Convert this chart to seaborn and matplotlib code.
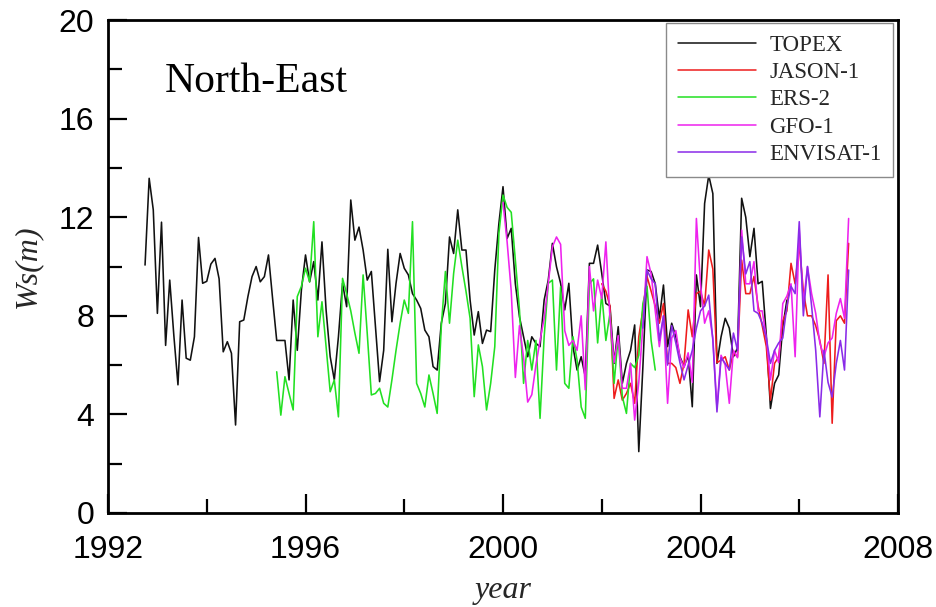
import numpy as np
import pandas as pd
import matplotlib
matplotlib.use("Agg")
import matplotlib.pyplot as plt
from matplotlib.ticker import MultipleLocator
import seaborn as sns

# Monthly mean wind speed (m/s) per altimeter mission, North-East region
topex_start = (1992, 10)
topex = [10.06, 13.58, 12.3, 8.1, 11.8, 6.8, 9.45, 7.2, 5.2, 8.64, 6.28, 6.2,
         7.15, 11.18, 9.32, 9.4, 10.1, 10.33, 9.5, 6.54, 6.95, 6.48, 3.57, 7.76,
         7.83, 8.78, 9.59, 10.0, 9.38, 9.59, 10.47, 8.7, 7.0, 7.0, 7.0, 5.4,
         8.64, 6.6, 9.05, 10.47, 9.38, 10.2, 8.64, 11.0, 8.24, 6.34, 5.4, 7.15,
         9.32, 8.37, 12.7, 11.07, 11.6, 10.67, 9.45, 9.8, 7.56, 5.33, 6.6, 10.7,
         7.76, 9.32, 10.53, 9.93, 9.66, 8.9, 8.64, 8.3, 7.42, 7.15, 5.94, 5.8,
         7.7, 8.5, 11.2, 10.53, 12.3, 10.67, 10.67, 8.64, 7.22, 8.17, 6.88, 7.42,
         7.36, 9.86, 11.75, 13.24, 11.14, 11.55, 9.3, 7.96, 7.15, 6.34, 7.15, 6.88,
         6.75, 8.64, 9.45, 10.94, 9.99, 9.32, 8.24, 9.32, 6.75, 5.8, 6.34, 5.53,
         10.13, 10.13, 10.87, 9.72, 8.5, 8.4, 6.07, 7.56, 5.26, 6.07, 6.6, 7.63,
         2.49, 5.94, 9.86, 9.8, 9.3, 7.9, 9.25, 6.75, 7.7, 7.15, 6.34, 5.94,
         6.4, 4.31, 9.66, 8.37, 12.56, 13.7, 12.96, 6.07, 7.15, 7.9, 7.5, 6.34,
         6.7, 12.77, 12.0, 10.4, 11.55, 9.3, 9.4, 7.2, 4.24, 5.26, 5.6, 7.56,
         8.64]

jason_start = (2002, 1)
jason = [9.3, 9.0, 8.4, 4.65, 5.4, 4.58, 4.85, 5.26, 4.45, 7.15, 8.24, 9.6,
         9.0, 8.4, 7.7, 8.5, 6.07, 6.07, 5.9, 5.26, 6.07, 8.24, 7.15, 8.9,
         9.0, 8.4, 10.67, 9.9, 6.1, 6.2, 6.34, 5.8, 6.5, 6.34, 10.26, 8.9,
         8.9, 9.6, 8.4, 7.6, 6.75, 4.58, 6.07, 6.34, 7.8, 8.2, 10.13, 9.3,
         10.9, 9.0, 8.0, 8.0, 7.6, 7.0, 6.07, 9.66, 3.64, 7.8, 8.0, 7.7,
         10.94]

ers_start = (1995, 6)
ers = [5.73, 3.97, 5.53, 4.85, 4.18, 8.78, 9.2, 9.93, 9.38, 11.82, 7.15, 8.57,
       6.75, 4.92, 5.4, 3.9, 9.52, 8.9, 8.2, 7.3, 6.48, 9.66, 7.29, 4.79,
       4.85, 5.06, 4.45, 4.3, 5.4, 6.6, 7.7, 8.64, 8.1, 11.82, 5.26, 4.85,
       4.3, 5.6, 4.85, 4.04, 7.56, 9.8, 7.7, 9.72, 11.07, 10.0, 9.0, 7.9,
       4.72, 6.82, 5.94, 4.18, 5.26, 6.75, 11.34, 12.9, 12.4, 12.2, 10.26, 8.24,
       5.26, 7.0, 5.8, 7.0, 3.84, 7.15, 9.32, 9.45, 5.8, 9.18, 5.26, 5.06,
       7.15, 6.2, 4.3, 3.84, 9.3, 9.5, 6.9, 8.9, 7.0, 8.1, 5.26, 7.15,
       4.72, 4.04, 6.07, 5.9, 6.4, 8.5, 9.2, 7.0, 5.8]

gfo_start = (2000, 1)
gfo = [12.6, 11.0, 9.0, 5.5, 7.6, 6.3, 4.5, 4.8, 6.0, 7.0, 7.9, 9.3,
       10.8, 11.2, 10.9, 7.4, 6.8, 7.0, 6.6, 8.0, 5.0, 10.0, 8.2, 9.45,
       8.7, 11.0, 7.9, 6.1, 7.2, 5.06, 5.06, 6.07, 3.77, 5.3, 7.6, 10.4,
       9.7, 8.2, 6.75, 8.0, 4.45, 7.1, 7.4, 6.3, 5.9, 6.5, 5.3, 11.95,
       9.3, 7.7, 8.2, 7.1, 4.25, 6.4, 6.0, 4.45, 6.6, 6.3, 11.48, 9.3,
       9.3, 10.2, 8.2, 8.2, 7.1, 5.4, 6.6, 6.1, 8.5, 8.8, 9.3, 6.34,
       11.48, 8.5, 10.0, 8.9, 8.1, 6.9, 6.34, 6.9, 7.1, 8.1, 8.7, 7.9,
       11.95]

envisat_start = (2002, 11)
envisat = [7.5, 9.86, 9.5, 9.3, 7.0, 8.0, 6.0, 7.6, 6.9, 6.1, 5.4, 6.0,
           6.6, 7.5, 8.2, 8.4, 8.84, 7.0, 4.1, 6.3, 6.07, 5.8, 7.3, 6.6,
           11.2, 9.7, 10.2, 8.2, 8.1, 7.7, 7.1, 6.07, 6.6, 6.9, 7.1, 8.4,
           9.2, 8.9, 11.82, 8.0, 10.0, 8.4, 6.6, 3.9, 6.6, 5.3, 4.7, 6.07,
           7.0, 5.8, 9.86]

sensors = ["TOPEX", "JASON-1", "ERS-2", "GFO-1", "ENVISAT-1"]
colors = ["#111111", "#ee1c1c", "#22e022", "#ee22ee", "#8a2be8"]
series = [(topex_start, topex), (jason_start, jason), (ers_start, ers),
          (gfo_start, gfo), (envisat_start, envisat)]

frames = []
for name, ((y0, m0), vals) in zip(sensors, series):
    months = np.arange(len(vals))
    years = y0 + (m0 - 1 + months) / 12.0
    frames.append(pd.DataFrame({"year": years, "Ws": vals, "sensor": name}))
df = pd.concat(frames, ignore_index=True)

sns.set_theme(style="white")
plt.rcParams["font.family"] = ["Liberation Sans", "DejaVu Sans"]

fig = plt.figure(figsize=(9.36, 6.07), dpi=100)
ax = fig.add_axes([0.1154, 0.1549, 0.8440, 0.812])

sns.lineplot(data=df, x="year", y="Ws", hue="sensor", hue_order=sensors,
             palette=dict(zip(sensors, colors)), estimator=None, sort=False,
             linewidth=1.15, ax=ax)

ax.set_xlim(1992, 2008)
ax.set_ylim(0, 20)
ax.xaxis.set_major_locator(MultipleLocator(4))
ax.xaxis.set_minor_locator(MultipleLocator(2))
ax.yaxis.set_major_locator(MultipleLocator(4))
ax.yaxis.set_minor_locator(MultipleLocator(2))
ax.tick_params(which="both", direction="in", bottom=True, left=True,
               top=False, right=False, width=1.6, colors="black")
ax.tick_params(which="major", length=14, labelsize=23)
ax.tick_params(axis="x", which="major", pad=16)
ax.tick_params(axis="y", which="major", pad=10)
ax.tick_params(which="minor", length=10)
for s in ax.spines.values():
    s.set_linewidth(2.0)
    s.set_color("black")

serif = ["Liberation Serif", "DejaVu Serif"]
ax.set_xlabel("year", family=serif, style="italic", fontsize=23, labelpad=8)
ax.set_ylabel("Ws(m)", family=serif, style="italic", fontsize=23, labelpad=12)
ax.text(0.072, 0.875, "North-East", transform=ax.transAxes, family=serif,
        fontsize=30, va="center", ha="left", color="black")

leg = ax.legend(loc="upper right", bbox_to_anchor=(0.994, 0.994),
                prop={"family": serif, "size": 16.5}, handlelength=3.4,
                handletextpad=0.6, labelspacing=0.28, borderpad=0.5,
                borderaxespad=0, frameon=True, fancybox=False, framealpha=1,
                edgecolor="#8a8a8a")
leg.get_frame().set_linewidth(1.0)
for line in leg.get_lines():
    line.set_linewidth(1.1)

fig.savefig("out.png", dpi=100)
